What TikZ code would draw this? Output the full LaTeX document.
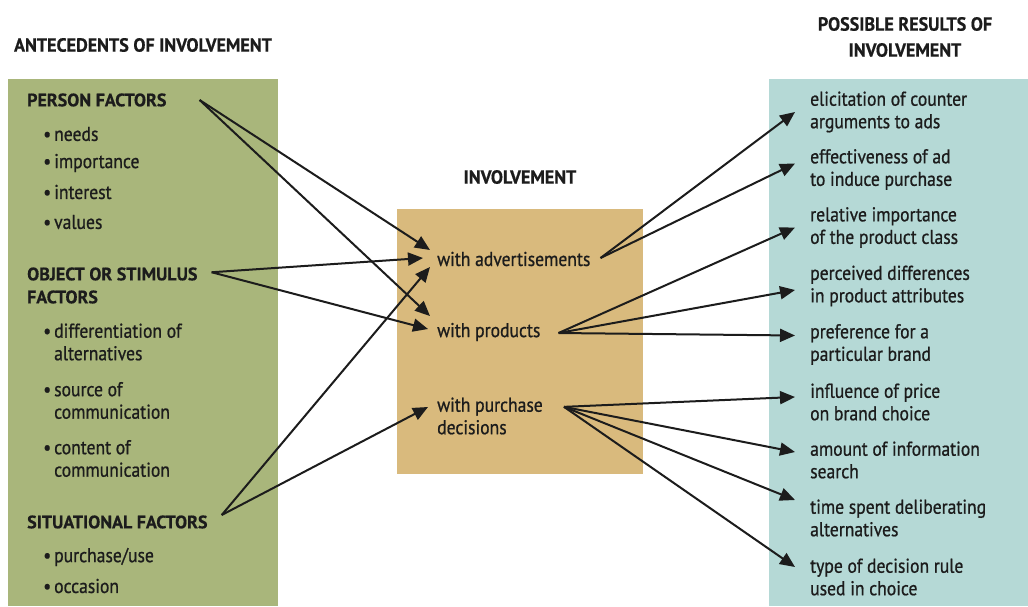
\documentclass[tikz,border=0pt]{standalone}
\usepackage{fontspec}
\setmainfont{PT Sans}[FakeStretch=0.88,FakeBold=0.8]
\newfontfamily\headfont{PT Sans}[FakeStretch=1.0,FakeBold=0.6]
\newfontfamily\titlefont{PT Sans}[FakeStretch=0.95,FakeBold=0.6]
\usetikzlibrary{arrows.meta,calc}
\definecolor{greenbox}{HTML}{A9B67B}
\definecolor{tanbox}{HTML}{D9BA7D}
\definecolor{tealbox}{HTML}{B5D9D6}
\definecolor{ink}{HTML}{1C1C1C}
\newcommand{\bul}{\llap{\textbullet\hspace{3pt}}}
\begin{document}
\begin{tikzpicture}[x=1pt,y=-1pt,
  head/.style={font=\headfont\fontsize{18}{23}\selectfont\bfseries, text=ink, inner sep=0, anchor=west, align=left},
  title/.style={font=\titlefont\fontsize{19}{26}\selectfont\bfseries, text=ink, inner sep=0, align=center},
  body/.style={font=\fontsize{20}{22.5}\selectfont, text=ink, inner sep=0, anchor=west, align=left},
  arr/.style={draw=ink, line width=2pt, -{Triangle[length=15pt,width=13pt]}},
]
\useasboundingbox (0,0) rectangle (1028,606);
\fill[white] (0,0) rectangle (1028,606);
% panels
\fill[greenbox] (8,79) rectangle (278,606);
\fill[tanbox] (397,209) rectangle (643,474);
\fill[tealbox] (769,79) rectangle (1028,606);
% titles
\node[title] (t1) at (143,45) {ANTECEDENTS OF INVOLVEMENT};
\node[title] (t2) at (520,177) {INVOLVEMENT};
\node[title] (t3) at (905,37) {POSSIBLE RESULTS OF\\INVOLVEMENT};
% left column
\node[head] (pf) at (27,100) {PERSON FACTORS};
\node[body] (l1) at (54,134) {\bul needs};
\node[body] (l2) at (54,163) {\bul importance};
\node[body] (l3) at (54,192) {\bul interest};
\node[body] (l4) at (54,222) {\bul values};
\node[head] (obj) at (27,285.5) {OBJECT OR STIMULUS\\FACTORS};
\node[body] (l5) at (54,342) {\bul differentiation of\\alternatives};
\node[body] (l6) at (54,400.5) {\bul source of\\communication};
\node[body] (l7) at (54,458.5) {\bul content of\\communication};
\node[head] (sit) at (27,522) {SITUATIONAL FACTORS};
\node[body] (l8) at (54,557) {\bul purchase/use};
\node[body] (l9) at (54,586) {\bul occasion};
% middle
\node[body] (ads) at (437,259) {with advertisements};
\node[body] (prod) at (437,332) {with products};
\node[body] (pur) at (437,416) {with purchase\\decisions};
% right column
\node[body] (r1) at (810,112) {elicitation of counter\\arguments to ads};
\node[body] (r2) at (810,169.5) {effectiveness of ad\\to induce purchase};
\node[body] (r3) at (810,227.5) {relative importance\\of the product class};
\node[body] (r4) at (810,286) {perceived differences\\in product attributes};
\node[body] (r5) at (810,344.5) {preference for a\\particular brand};
\node[body] (r6) at (810,402) {influence of price\\on brand choice};
\node[body] (r7) at (810,460) {amount of information\\search};
\node[body] (r8) at (810,518) {time spent deliberating\\alternatives};
\node[body] (r9) at (810,577) {type of decision rule\\used in choice};
% arrows: antecedents -> involvement
\draw[arr] ($(pf.east)+(33,0)$) -- ($(ads.west)+(-7,-9)$);
\draw[arr] ($(pf.east)+(33,0)$) -- ($(prod.west)+(-7,-16)$);
\draw[arr] ($(obj.north east)+(14,5)$) -- ($(ads.west)+(-14,-1)$);
\draw[arr] ($(obj.north east)+(14,5)$) -- ($(prod.west)+(-9,-3)$);
\draw[arr] ($(sit.east)+(14,-7)$) -- ($(ads.west)+(-7,8)$);
\draw[arr] ($(sit.east)+(14,-7)$) -- ($(pur.west)+(-9,-9)$);
% arrows: involvement -> results
\draw[arr] ($(ads.east)+(10,-1)$) -- ($(r1.west)+(-15,0)$);
\draw[arr] ($(ads.east)+(10,-1)$) -- ($(r2.west)+(-15,-6)$);
\draw[arr] ($(prod.east)+(18,1)$) -- ($(r3.west)+(-15,0)$);
\draw[arr] ($(prod.east)+(18,1)$) -- ($(r4.west)+(-15,4)$);
\draw[arr] ($(prod.east)+(18,1)$) -- ($(r5.west)+(-15,-9)$);
\draw[arr] ($(pur.north east)+(21,9.5)$) -- ($(r6.west)+(-15,-5)$);
\draw[arr] ($(pur.north east)+(21,9.5)$) -- ($(r7.west)+(-15,-8)$);
\draw[arr] ($(pur.north east)+(21,9.5)$) -- ($(r8.west)+(-15,-18)$);
\draw[arr] ($(pur.north east)+(21,9.5)$) -- ($(r9.west)+(-15,-10)$);
\end{tikzpicture}
\end{document}
